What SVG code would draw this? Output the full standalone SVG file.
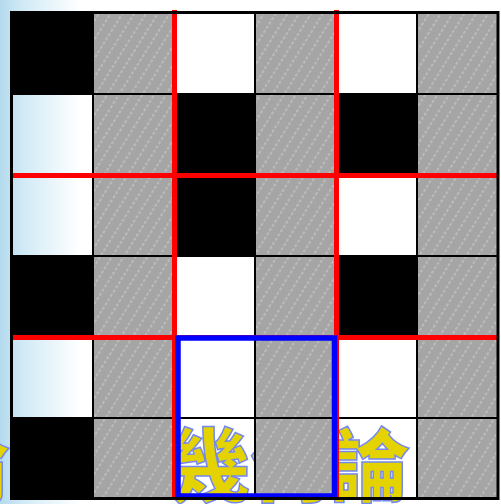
<svg xmlns="http://www.w3.org/2000/svg" width="501" height="504" viewBox="0 0 501 504">
<defs>
<linearGradient id="bg" x1="0" y1="0" x2="501" y2="0" gradientUnits="userSpaceOnUse">
<stop offset="0" stop-color="#b4daee"/>
<stop offset="0.05" stop-color="#d3ebf6"/>
<stop offset="0.16" stop-color="#ffffff"/>
<stop offset="1" stop-color="#ffffff"/>
</linearGradient>
<pattern id="hatch" width="10" height="10" patternUnits="userSpaceOnUse" patternTransform="rotate(32)">
<rect width="10" height="10" fill="#a5a5a5"/>
<line x1="1" y1="0" x2="1" y2="10" stroke="#c9c9c9" stroke-width="1.2" stroke-dasharray="3 2"/>
</pattern>
</defs>
<style>
.b{fill:#000}
.g{fill:url(#hatch)}
.w{fill:none}
.grid{stroke:#000;stroke-width:2;fill:none}
.red{stroke:#ff0000;stroke-width:5}
.title{font-family:"Noto Sans CJK TC","Noto Sans CJK SC",sans-serif;font-weight:900;font-size:80px;fill:#e4d300;stroke:#7488f0;stroke-width:1.5}
</style>
<rect width="501" height="504" fill="url(#bg)"/>
<g id="title">
<text class="title" x="-70" y="495">論</text>
<text class="title" x="170" y="495">幾</text>
<text class="title" x="250" y="495">何</text>
<text class="title" x="330" y="495">論</text>
</g>
<g id="cells">
<g id="r0c0"><rect class="b" x="12" y="13" width="81" height="81"/></g>
<g id="r0c1"><rect class="g" x="93" y="13" width="81" height="81"/></g>
<g id="r0c2"><rect class="w" x="174" y="13" width="81" height="81"/></g>
<g id="r0c3"><rect class="g" x="255" y="13" width="81" height="81"/></g>
<g id="r0c4"><rect class="w" x="336" y="13" width="81" height="81"/></g>
<g id="r0c5"><rect class="g" x="417" y="13" width="81" height="81"/></g>
<g id="r1c0"><rect class="w" x="12" y="94" width="81" height="81"/></g>
<g id="r1c1"><rect class="g" x="93" y="94" width="81" height="81"/></g>
<g id="r1c2"><rect class="b" x="174" y="94" width="81" height="81"/></g>
<g id="r1c3"><rect class="g" x="255" y="94" width="81" height="81"/></g>
<g id="r1c4"><rect class="b" x="336" y="94" width="81" height="81"/></g>
<g id="r1c5"><rect class="g" x="417" y="94" width="81" height="81"/></g>
<g id="r2c0"><rect class="w" x="12" y="175" width="81" height="81"/></g>
<g id="r2c1"><rect class="g" x="93" y="175" width="81" height="81"/></g>
<g id="r2c2"><rect class="b" x="174" y="175" width="81" height="81"/></g>
<g id="r2c3"><rect class="g" x="255" y="175" width="81" height="81"/></g>
<g id="r2c4"><rect class="w" x="336" y="175" width="81" height="81"/></g>
<g id="r2c5"><rect class="g" x="417" y="175" width="81" height="81"/></g>
<g id="r3c0"><rect class="b" x="12" y="256" width="81" height="81"/></g>
<g id="r3c1"><rect class="g" x="93" y="256" width="81" height="81"/></g>
<g id="r3c2"><rect class="w" x="174" y="256" width="81" height="81"/></g>
<g id="r3c3"><rect class="g" x="255" y="256" width="81" height="81"/></g>
<g id="r3c4"><rect class="b" x="336" y="256" width="81" height="81"/></g>
<g id="r3c5"><rect class="g" x="417" y="256" width="81" height="81"/></g>
<g id="r4c0"><rect class="w" x="12" y="337" width="81" height="81"/></g>
<g id="r4c1"><rect class="g" x="93" y="337" width="81" height="81"/></g>
<g id="r4c2"><rect class="w" x="174" y="337" width="81" height="81"/></g>
<g id="r4c3"><rect class="g" x="255" y="337" width="81" height="81"/></g>
<g id="r4c4"><rect class="w" x="336" y="337" width="81" height="81"/></g>
<g id="r4c5"><rect class="g" x="417" y="337" width="81" height="81"/></g>
<g id="r5c0"><rect class="b" x="12" y="418" width="81" height="81"/></g>
<g id="r5c1"><rect class="g" x="93" y="418" width="81" height="81"/></g>
<g id="r5c2"><rect class="w" x="174" y="418" width="81" height="81"/></g>
<g id="r5c3"><rect class="g" x="255" y="418" width="81" height="81"/></g>
<g id="r5c4"><rect class="w" x="336" y="418" width="81" height="81"/></g>
<g id="r5c5"><rect class="g" x="417" y="418" width="81" height="81"/></g>
</g>
<g id="connectors">
<path class="grid" d="M93,13V499 M255,13V499 M417,13V499 M12,94H498 M12,256H498 M12,418H498"/>
<path class="red" d="M174.5,10V499 M336.5,10V499 M10,175.5H498 M10,337.5H498"/>
</g>
<g id="highlight">
<rect x="178" y="338" width="156.5" height="158" fill="none" stroke="#0000ff" stroke-width="5.5"/>
</g>
<g id="frame">
<rect x="11.5" y="12.5" width="486.5" height="486" fill="none" stroke="#000" stroke-width="3"/>
</g>
</svg>
